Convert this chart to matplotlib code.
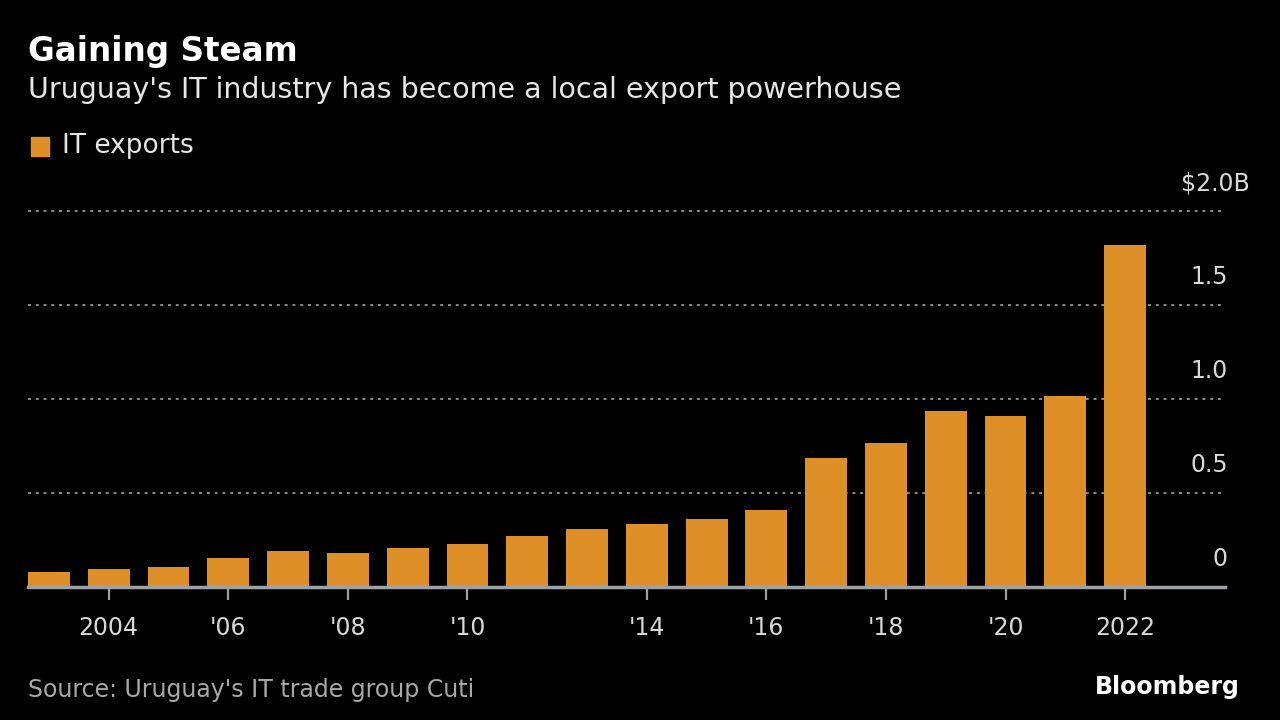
import numpy as np
import matplotlib
matplotlib.use('Agg')
import matplotlib.pyplot as plt
from matplotlib.transforms import blended_transform_factory

plt.rcParams['font.family'] = ['Liberation Sans Narrow', 'DejaVu Sans']

# IT exports, billions of US$, one bar per reported year
exports = [0.08, 0.094, 0.107, 0.155, 0.19, 0.183, 0.21, 0.227, 0.27, 0.31,
           0.333, 0.36, 0.41, 0.686, 0.764, 0.935, 0.908, 1.014, 1.82]
tick_pos = [1, 3, 5, 7, 10, 12, 14, 16, 18]
tick_labels = ['2004', "'06", "'08", "'10", "'14", "'16", "'18", "'20", '2022']
y_ticks = [0, 0.5, 1.0, 1.5, 2.0]
y_labels = ['0', '0.5', '1.0', '1.5', '$2.0B']

bar_color = '#df8f28'
bg = 'black'

fig = plt.figure(figsize=(12.8, 7.2), dpi=100, facecolor=bg)
W, H = 1280, 720
ax = fig.add_axes([28 / W, 1 - 587 / H, (1225 - 28) / W, (587 - 211) / H])
ax.set_facecolor(bg)

x = np.arange(len(exports))
ax.bar(x, exports, width=0.7, color=bar_color, zorder=3)
ax.set_xlim(-0.35, 19.67)
ax.set_ylim(0, 2.0)

for s in ax.spines.values():
    s.set_visible(False)
ax.axhline(0, color='#9ea2a6', lw=2.5, zorder=4, clip_on=False)
for yv in y_ticks[1:]:
    ax.axhline(yv, color='#8a8a8a', lw=1.4, ls=(0, (1.5, 2.5)), zorder=1, clip_on=False)

ax.set_yticks([])
ax.set_xticks(tick_pos)
ax.set_xticklabels(tick_labels, fontsize=17, color='#d8d8d8')
ax.tick_params(axis='x', length=9, width=1.6, color='#a0a0a0', pad=12)

trans = blended_transform_factory(fig.transFigure, ax.transData)
for yv, lab in zip(y_ticks, y_labels):
    xr = 1250 / W if lab.startswith('$') else 1228 / W
    ax.text(xr, yv + 0.085, lab, transform=trans, ha='right',
            va='bottom', fontsize=17, color='#d8d8d8')

fig.text(28 / W, 1 - 51 / H, 'Gaining Steam', fontsize=23.5, fontweight='bold',
         color='white', va='center', ha='left')
fig.text(28 / W, 1 - 90 / H, "Uruguay's IT industry has become a local export powerhouse",
         fontsize=20.5, color='#e6e6e6', va='center', ha='left')
fig.patches.append(plt.Rectangle((31 / W, 1 - 156 / H), 18 / W, 19 / H,
                                 transform=fig.transFigure, color=bar_color))
fig.text(62 / W, 1 - 146 / H, 'IT exports', fontsize=19, color='#e6e6e6',
         va='center', ha='left')
fig.text(28 / W, 1 - 690 / H, "Source: Uruguay's IT trade group Cuti", fontsize=17,
         color='#a8a8a8', va='center', ha='left')
fig.text(1240 / W, 1 - 687 / H, 'Bloomberg', fontsize=17, fontweight='bold',
         color='white', va='center', ha='right')

fig.savefig('out.png', dpi=100, facecolor=bg)
